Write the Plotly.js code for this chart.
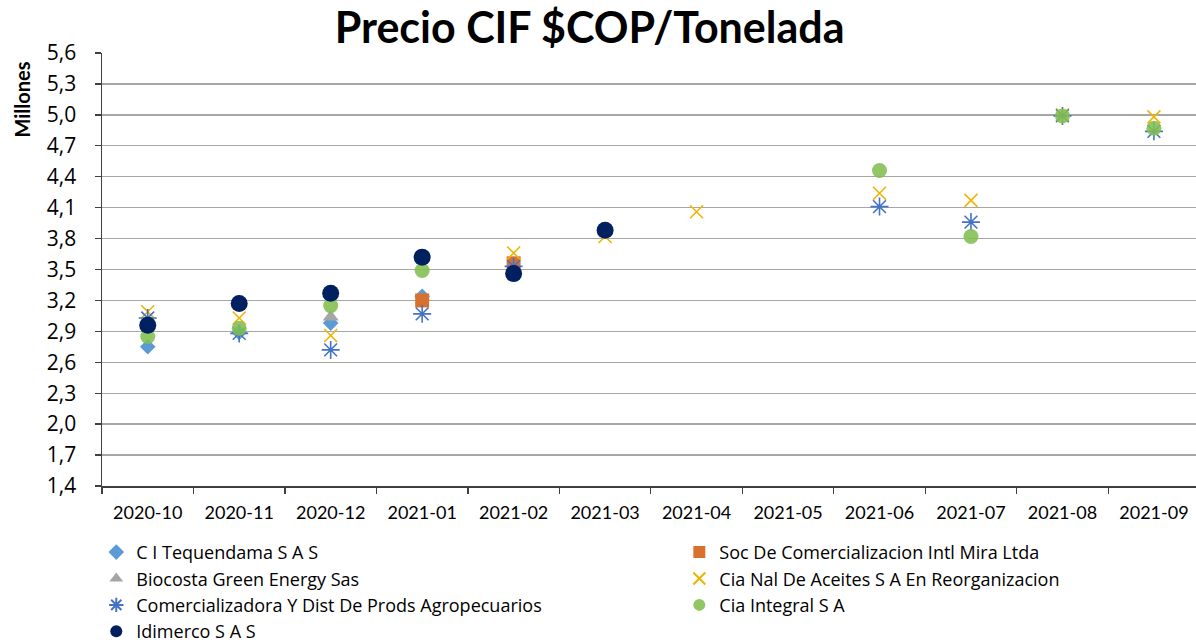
<!DOCTYPE html>
<html>
<head>
<meta charset="utf-8">
<script src="https://cdn.plot.ly/plotly-3.0.1.min.js"></script>
<style>html,body{margin:0;padding:0;background:#fff;}#chart{width:1196px;height:644px;}</style>
</head>
<body>
<div id="chart"></div>
<script>
var categories = ['2020-10','2020-11','2020-12','2021-01','2021-02','2021-03','2021-04','2021-05','2021-06','2021-07','2021-08','2021-09'];
var seriesNames = ['C I Tequendama S A S','Soc De Comercializacion Intl Mira Ltda','Biocosta Green Energy Sas','Cia Nal De Aceites S A En Reorganizacion','Comercializadora Y Dist De Prods Agropecuarios','Cia Integral S A','Idimerco S A S'];
var tequendama  = [2.75, 2.89, 2.98, 3.24, null, null, null, null, null, null, null, null];
var socMira     = [null, null, null, 3.20, 3.56, null, null, null, null, null, null, null];
var biocosta    = [null, null, 3.04, null, null, null, null, null, null, null, null, null];
var ciaNal      = [3.09, 3.03, 2.86, null, 3.66, 3.82, 4.06, null, 4.24, 4.17, 5.00, 4.98];
var comerc      = [3.03, 2.88, 2.72, 3.07, 3.53, null, null, null, 4.11, 3.96, 4.99, 4.84];
var ciaIntegral = [2.85, 2.93, 3.15, 3.49, null, null, null, null, 4.46, 3.82, 4.99, 4.87];
var idimerco    = [2.96, 3.17, 3.27, 3.62, 3.46, 3.88, null, null, null, null, null, null];
var yTicks = [1.4,1.7,2.0,2.3,2.6,2.9,3.2,3.5,3.8,4.1,4.4,4.7,5.0,5.3,5.6];

var FONT = 'Lato, "Open Sans", sans-serif';
var FONT2 = '"Open Sans", Lato, sans-serif';
function tr(name, y, marker, leg){
  return {type:'scatter', mode:'markers', x:categories, y:y, name:name, marker:marker, legend:leg, hoverinfo:'x+y+name', cliponaxis:false};
}
var data = [
  tr(seriesNames[0], tequendama, {symbol:'diamond', size:12, color:'#5B9BD5'}, 'legend'),
  tr(seriesNames[1], socMira, {symbol:'square', size:14, color:'#D9712E'}, 'legend2'),
  tr(seriesNames[2], biocosta, {symbol:'triangle-up', size:14, color:'#A5A5A5'}, 'legend'),
  tr(seriesNames[3], ciaNal, {symbol:'x-thin-open', size:13, color:'#F0B400', line:{color:'#F0B400', width:1.6}}, 'legend2'),
  tr(seriesNames[4], comerc, {symbol:'asterisk-open', size:15, color:'#4472C4', line:{color:'#4472C4', width:1.6}}, 'legend'),
  tr(seriesNames[5], ciaIntegral, {symbol:'circle', size:15, color:'rgba(130,190,80,0.88)', line:{width:0}}, 'legend2'),
  tr(seriesNames[6], idimerco, {symbol:'circle', size:17, color:'#002060', line:{width:0}}, 'legend')
];

function legendCfg(x){
  return {
    orientation:'v', xref:'container', yref:'container', x:x, xanchor:'left', y:0.171, yanchor:'top',
    itemsizing:'constant', traceorder:'normal', itemwidth:30,
    font:{family:FONT2, size:18, color:'#000'}, tracegroupgap:0, bgcolor:'rgba(0,0,0,0)', borderwidth:0
  };
}

var layout = {
  width:1196, height:644,
  margin:{l:102, r:0, t:53, b:158, pad:0, autoexpand:false},
  paper_bgcolor:'#fff', plot_bgcolor:'#fff',
  separators:',.',
  font:{family:FONT, color:'#000', size:18},
  showlegend:true,
  title:{text:'<b>Precio CIF $COP/Tonelada</b>', font:{family:FONT, size:43, color:'#000'}, x:0.493, xanchor:'center', y:0.957, yanchor:'middle'},
  xaxis:{
    type:'category', range:[-0.5, 11.46], tickson:'boundaries', ticks:'outside', ticklen:6, tickcolor:'#404040', tickwidth:1.3,
    showgrid:false, showline:true, linecolor:'#404040', linewidth:1.5, zeroline:false,
    tickfont:{family:FONT, size:18, color:'#000'}, ticklabelstandoff:10, fixedrange:true
  },
  yaxis:{
    range:[1.4, 5.6], tickvals:yTicks, tickformat:'.1f', ticks:'outside', ticklen:6, tickcolor:'#404040', tickwidth:1.3,
    showgrid:true, gridcolor:'#A6A6A6', gridwidth:1.3, showline:true, linecolor:'#404040', linewidth:1.5, zeroline:false,
    tickfont:{family:FONT2, size:21, color:'#000'}, ticklabelstandoff:14, fixedrange:true
  },
  legend: legendCfg(0.0805),
  legend2: legendCfg(0.568),
  annotations:[{
    text:'<b>Millones</b>', xref:'paper', yref:'paper', x:-0.073, y:0.893, xanchor:'center', yanchor:'middle',
    textangle:-90, showarrow:false, font:{family:FONT, size:20, color:'#000'}
  }]
};
Plotly.newPlot('chart', data, layout, {displayModeBar:false, staticPlot:true});
</script>
</body>
</html>
